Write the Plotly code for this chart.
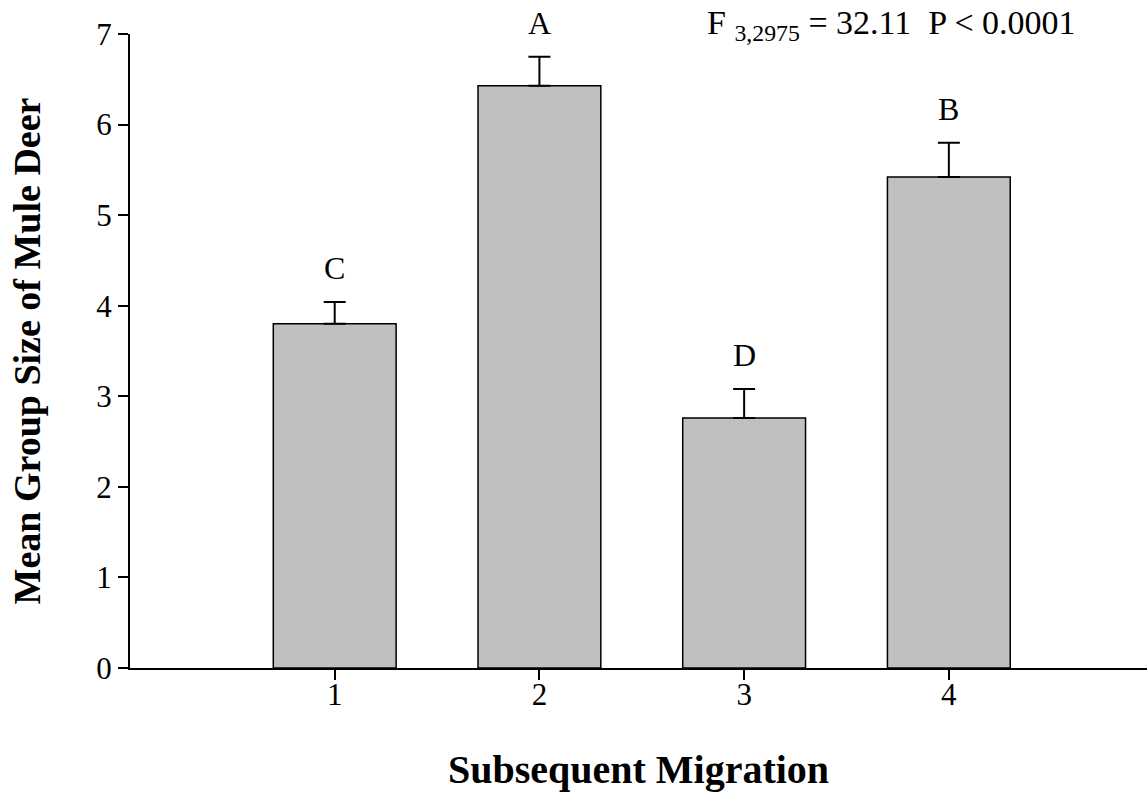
import plotly.graph_objects as go

# Mean group size per subsequent-migration class, with SE and Tukey letters
categories = [1, 2, 3, 4]
means = [3.80, 6.43, 2.76, 5.42]
se = [0.24, 0.32, 0.32, 0.38]
letters = ["C", "A", "D", "B"]
y_ticks = [0, 1, 2, 3, 4, 5, 6, 7]

SERIF = "Liberation Serif, Times New Roman, serif"

fig = go.Figure()
fig.add_trace(go.Bar(
    x=categories,
    y=means,
    width=0.6,
    marker=dict(color="#c0c0c0", line=dict(color="black", width=1.5)),
    error_y=dict(type="data", array=se, arrayminus=[0] * len(se), symmetric=False,
                 color="black", thickness=2, width=11),
    showlegend=False,
))

# Significance letters above each error bar
for xc, m, e, lab in zip(categories, means, se, letters):
    fig.add_annotation(x=xc, y=m + e, text=lab, showarrow=False,
                       yanchor="bottom", yshift=14,
                       font=dict(family=SERIF, size=32, color="black"))

fig.add_annotation(xref="paper", yref="paper", x=0.932, y=1.014,
                   xanchor="right", yanchor="middle", showarrow=False,
                   text="F <sub>3,2975</sub> = 32.11  P < 0.0001",
                   font=dict(family=SERIF, size=34, color="black"))

fig.update_layout(
    width=1147, height=797,
    margin=dict(l=130, r=0, t=34, b=129),
    plot_bgcolor="white", paper_bgcolor="white",
    font=dict(family=SERIF, color="black"),
    bargap=0.4,
)
fig.update_xaxes(
    range=[0, 4.968], tickvals=categories, ticktext=[str(c) for c in categories],
    showline=True, linecolor="black", linewidth=2,
    ticks="outside", ticklen=10, tickwidth=1.5, tickcolor="black",
    ticklabelstandoff=-12,
    showgrid=False, zeroline=False,
    tickfont=dict(family=SERIF, size=31),
    title=dict(text="<b>Subsequent Migration</b>", standoff=44,
               font=dict(family=SERIF, size=40)),
)
fig.update_yaxes(
    range=[0, 7], tickvals=y_ticks,
    showline=True, linecolor="black", linewidth=2,
    ticks="outside", ticklen=10, tickwidth=1.5, tickcolor="black",
    showgrid=False, zeroline=False,
    tickfont=dict(family=SERIF, size=31),
    title=dict(text="<b>Mean Group Size of Mule Deer</b>", standoff=44,
               font=dict(family=SERIF, size=38)),
)

fig.write_html("out.html")
